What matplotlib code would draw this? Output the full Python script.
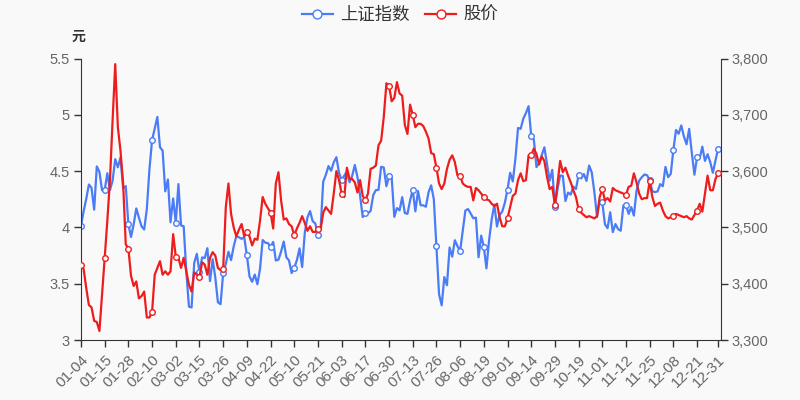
import matplotlib
matplotlib.use("Agg")
import matplotlib.pyplot as plt
from matplotlib.ticker import FuncFormatter, FixedLocator
import pandas as pd

plt.rcParams['font.family'] = ['Liberation Sans', 'Noto Sans CJK SC', 'DejaVu Sans']

# 2021 A-share trading days (weekday holidays removed)
holidays = ['2021-02-11', '2021-02-12', '2021-02-15', '2021-02-16', '2021-02-17',
            '2021-04-05', '2021-05-03', '2021-05-04', '2021-05-05', '2021-06-14',
            '2021-09-20', '2021-09-21', '2021-10-01', '2021-10-04', '2021-10-05',
            '2021-10-06', '2021-10-07']
days = pd.bdate_range('2021-01-04', '2021-12-31')
days = days[~days.isin(pd.to_datetime(holidays))]
dates = [d.strftime('%m-%d') for d in days]

# 上证指数 (right axis)
index_vals = [
    3502.96, 3528.68, 3550.88, 3576.20, 3570.11, 3531.50, 3608.34, 3598.65, 3565.90, 3566.38,
    3596.22, 3566.26, 3583.09, 3621.26, 3606.75, 3624.24, 3569.43, 3573.34, 3505.18, 3483.07,
    3505.28, 3533.68, 3517.31, 3501.86, 3496.33, 3532.44, 3603.49, 3655.09, 3675.36, 3696.17,
    3642.44, 3636.36, 3564.08, 3585.05, 3509.08,
    3551.40, 3508.59, 3576.90, 3503.49, 3501.99, 3421.41, 3359.29, 3357.74, 3436.83, 3453.08,
    3419.95, 3446.73, 3445.55, 3463.07, 3404.66, 3443.44, 3411.51, 3367.06, 3363.59, 3418.33,
    3435.30, 3456.68, 3441.91,
    3466.33, 3484.39, 3482.48, 3479.63, 3482.55, 3450.68, 3412.95, 3403.44, 3416.15, 3398.99,
    3426.62, 3477.55, 3472.94, 3472.09, 3465.11, 3474.17, 3441.17, 3442.61, 3457.07, 3474.90,
    3446.86,
    3441.28, 3418.87, 3427.99, 3441.85, 3462.75, 3429.54, 3490.38, 3517.61, 3529.01, 3510.96,
    3506.94, 3486.56, 3497.28, 3581.34, 3593.36, 3608.85, 3600.78, 3615.48,
    3624.71, 3597.14, 3584.22, 3591.84, 3599.54, 3580.11, 3591.40, 3610.86, 3589.75, 3556.56,
    3518.33, 3525.10, 3525.10, 3529.18, 3557.41, 3566.22, 3566.65, 3607.56, 3606.37, 3573.18,
    3591.20,
    3588.78, 3518.76, 3534.32, 3530.26, 3553.72, 3525.50, 3524.09, 3547.84, 3566.59, 3528.50,
    3564.59, 3539.30, 3539.12, 3536.79, 3562.31, 3574.73, 3550.40, 3467.44, 3381.18, 3361.59,
    3411.72, 3397.36,
    3464.29, 3447.99, 3477.22, 3466.56, 3458.23, 3494.63, 3529.93, 3532.62, 3524.74, 3516.30,
    3517.34, 3446.98, 3485.29, 3465.55, 3427.33, 3477.13, 3514.47, 3540.38, 3501.66, 3522.16,
    3528.15, 3543.94,
    3567.10, 3597.04, 3581.73, 3621.86, 3676.59, 3675.19, 3693.13, 3703.11, 3715.37, 3662.60,
    3656.22, 3607.09, 3613.97, 3628.49, 3642.22, 3613.07, 3582.83, 3602.22, 3536.29, 3568.17,
    3592.17, 3591.71, 3546.94, 3561.76, 3558.28, 3572.37, 3568.14, 3593.15, 3587.00, 3594.78,
    3582.60, 3609.86, 3597.64, 3562.31, 3518.42, 3547.34,
    3544.48, 3505.63, 3498.54, 3526.87, 3491.57, 3506.00, 3497.00, 3494.00, 3539.00, 3540.00,
    3524.00, 3536.00, 3521.00, 3565.00, 3583.00, 3589.09, 3594.00, 3592.70, 3584.20, 3564.10,
    3562.70, 3563.90,
    3576.89, 3573.18, 3607.43, 3589.31, 3595.09, 3637.57, 3673.04, 3666.35, 3681.08, 3661.53,
    3647.63, 3675.02, 3632.36, 3593.60, 3625.13, 3622.62, 3643.34, 3618.05, 3630.00, 3616.00,
    3597.00, 3619.19, 3639.78,
]

# 股价 (left axis, 元)
price_vals = [
    3.67, 3.63, 3.46, 3.31, 3.29, 3.17, 3.16, 3.08, 3.40, 3.73,
    4.06, 4.42, 4.95, 5.45, 4.89, 4.68, 4.39, 3.85, 3.81, 3.57,
    3.48, 3.52, 3.37, 3.39, 3.43, 3.20, 3.20, 3.25, 3.58, 3.64,
    3.70, 3.58, 3.61, 3.58, 3.61, 3.94, 3.74, 3.73, 3.64, 3.73,
    3.61, 3.49, 3.43, 3.60, 3.58, 3.56, 3.69, 3.67, 3.58, 3.73,
    3.78, 3.75, 3.64, 3.62, 3.63, 4.18, 4.39, 4.12, 4.00, 3.92,
    3.98, 4.03, 3.92, 3.96, 3.92, 3.84, 3.90, 3.89, 4.06, 4.27,
    4.21, 4.17, 4.13, 3.99, 4.39, 4.49, 4.24, 4.07, 4.08, 4.03,
    4.01, 3.93, 3.99, 4.04, 4.10, 4.04, 3.97, 4.01, 3.96, 3.96,
    3.99, 3.98, 4.13, 4.18, 4.15, 4.12, 4.30, 4.50, 4.42, 4.30,
    4.27, 4.53, 4.43, 4.43, 4.40, 4.31, 4.42, 4.28, 4.24, 4.30,
    4.52, 4.53, 4.55, 4.73, 4.77, 4.98, 5.28, 5.26, 5.12, 5.15,
    5.29, 5.19, 5.17, 4.91, 4.83, 5.09, 5.00, 4.89, 4.92, 4.92,
    4.90, 4.85, 4.79, 4.66, 4.65, 4.53, 4.39, 4.34, 4.39, 4.52,
    4.60, 4.64, 4.58, 4.46, 4.46, 4.39, 4.37, 4.36, 4.36, 4.24,
    4.35, 4.33, 4.30, 4.27, 4.25, 4.24, 4.21, 4.19, 4.21, 4.09,
    4.01, 4.01, 4.08, 4.18, 4.28, 4.30, 4.42, 4.48, 4.41, 4.42,
    4.64, 4.64, 4.70, 4.65, 4.56, 4.63, 4.59, 4.45, 4.34, 4.36,
    4.20, 4.39, 4.59, 4.49, 4.53, 4.46, 4.40, 4.33, 4.27, 4.16,
    4.13, 4.11, 4.09, 4.10, 4.09, 4.08, 4.10, 4.27, 4.34, 4.24,
    4.26, 4.23, 4.35, 4.33, 4.32, 4.31, 4.30, 4.29, 4.36, 4.37,
    4.48, 4.40, 4.30, 4.25, 4.26, 4.26, 4.41, 4.27, 4.19, 4.21,
    4.22, 4.15, 4.10, 4.08, 4.09, 4.10, 4.12, 4.11, 4.10, 4.09,
    4.10, 4.08, 4.07, 4.11, 4.15, 4.21, 4.14, 4.30, 4.46, 4.33,
    4.33, 4.43, 4.48,
]

blue = '#4a7cf6'
red = '#ee1d1d'
axis_c = '#333333'
label_c = '#666666'

x = list(range(len(dates)))
marks = list(range(0, len(dates), 9)) + [len(dates) - 1]

fig = plt.figure(figsize=(8, 4), dpi=100, facecolor='#f9f9f9')
ax = fig.add_axes([81 / 800, 60 / 400, 639.5 / 800, 281.5 / 400])
ax.set_facecolor('#f9f9f9')
ax2 = ax.twinx()

l1, = ax2.plot(x, index_vals, color=blue, lw=1.6, marker='o', markevery=marks,
               ms=4, mfc='white', mec=blue, mew=1, label='上证指数')
l2, = ax.plot(x, price_vals, color=red, lw=1.6, marker='o', markevery=marks,
              ms=4, mfc='white', mec=red, mew=1, label='股价', zorder=5)
ax.set_zorder(ax2.get_zorder() + 1)
ax.patch.set_visible(False)
ax2.patch.set_visible(True)
ax2.patch.set_facecolor('#f9f9f9')

ax.set_xlim(0, 242.9)
ax.set_ylim(3, 5.5)
ax.set_yticks([3, 3.5, 4, 4.5, 5, 5.5])
ax.yaxis.set_major_formatter(FuncFormatter(lambda v, p: ('%g' % v)))
ax2.set_ylim(3300, 3800)
ax2.set_yticks(range(3300, 3801, 100))
ax2.yaxis.set_major_formatter(FuncFormatter(lambda v, p: '{:,.0f}'.format(v)))

ax.xaxis.set_major_locator(FixedLocator(marks))
ax.set_xticklabels([dates[i] for i in marks], rotation=45, ha='right',
                   rotation_mode='anchor')

for a in (ax, ax2):
    for s in a.spines.values():
        s.set_visible(False)
    a.tick_params(colors=axis_c, labelcolor=label_c, labelsize=10.5, length=5, width=1)
ax.spines['left'].set_visible(True)
ax.spines['bottom'].set_visible(True)
ax.spines['left'].set_color(axis_c)
ax.spines['bottom'].set_color(axis_c)
ax2.spines['right'].set_visible(True)
ax2.spines['right'].set_color(axis_c)
ax.tick_params(axis='x', pad=4, labelsize=11)
ax.tick_params(axis='y', pad=3)
ax2.tick_params(axis='y', pad=3)

fig.text(78 / 800, 1 - 37 / 400, '元', ha='center', va='center', fontsize=10,
         color=axis_c, fontweight='bold')

fig.legend(handles=[l1, l2], loc='center', bbox_to_anchor=(0.5, 1 - 15 / 400),
           ncol=2, frameon=False, fontsize=12.5, handlelength=1.8,
           handletextpad=0.4, columnspacing=0.9, markerscale=1.6, labelcolor='#333333')

fig.savefig('out.png', dpi=100, facecolor=fig.get_facecolor())
